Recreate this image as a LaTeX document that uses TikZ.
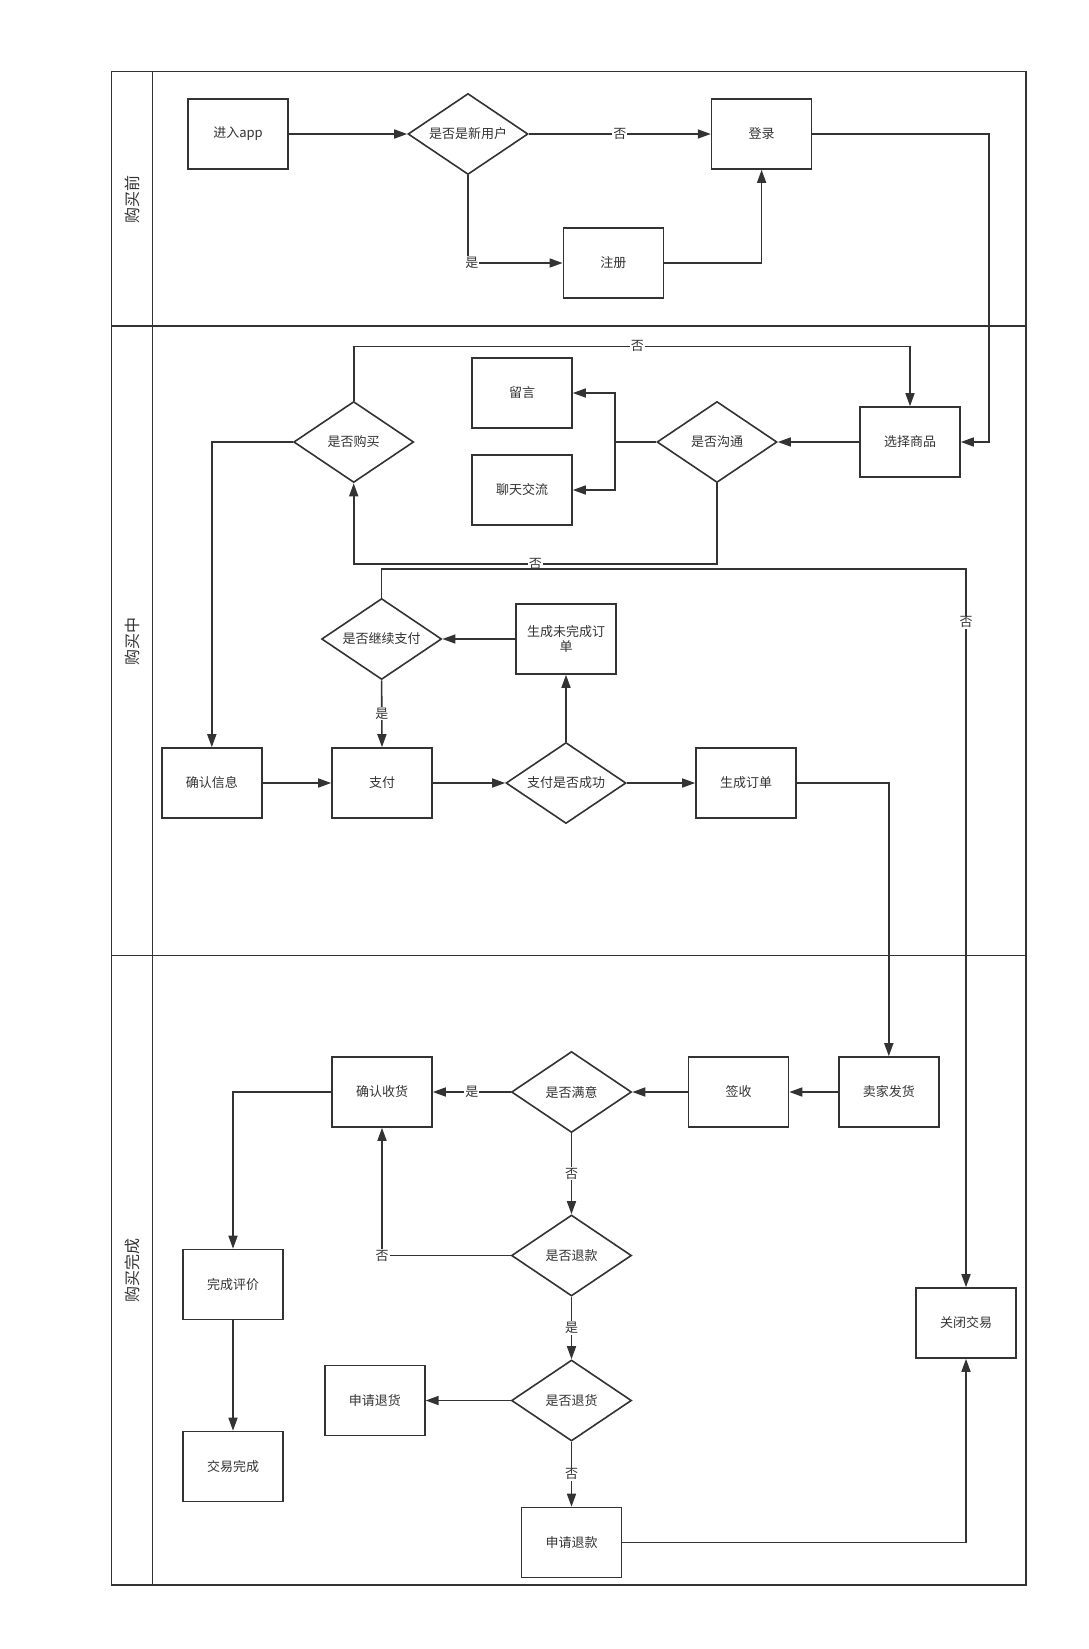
\documentclass[tikz,border=0pt]{standalone}
\usepackage{fontspec}
\setmainfont{Noto Sans CJK SC}
\usetikzlibrary{arrows.meta,shapes.geometric}
\definecolor{ink}{HTML}{333333}
\begin{document}
\begin{tikzpicture}[x=1pt,y=-1pt,
  every node/.style={font=\fontsize{13}{15}\selectfont, text=ink},
  box/.style={draw=ink, line width=1.6pt, minimum width=100pt, minimum height=70pt, inner sep=0pt, align=center},
  dec/.style={draw=ink, line width=1.6pt, diamond, aspect=1.5, minimum width=120pt, minimum height=81pt, inner sep=0pt},
  link/.style={draw=ink, line width=1.6pt, -{Triangle[length=13pt,width=9pt]}},
  plain/.style={draw=ink, line width=1.6pt},
  lbl/.style={fill=white, inner sep=1pt},
  lane/.style={font=\fontsize{16}{18}\selectfont, rotate=90}]
\useasboundingbox (0,0) rectangle (1089,1649);
\fill[white] (0,0) rectangle (1089,1649);
% frame
\draw[plain] (111.4,71.5) rectangle (1026,1585);
\draw[plain] (152.4,71.5) -- (152.4,1585);
\draw[plain] (111.4,326) -- (1026,326);
\draw[plain] (111.4,955.5) -- (1026,955.5);
\node[lane] (L1) at (132,199) {购买前};
\node[lane] (L2) at (132,641) {购买中};
\node[lane] (L3) at (132,1270) {购买完成};
% lane 1
\node[box] (app) at (238,134) {进入app};
\node[dec] (newu) at (468,134) {是否是新用户};
\node[box] (login) at (761.6,134) {登录};
\node[box] (reg) at (613.4,263) {注册};
% lane 2
\node[dec] (buy) at (353.7,442) {是否购买};
\node[box] (msg) at (522,393) {留言};
\node[box] (chat) at (522,490) {聊天交流};
\node[dec] (comm) at (717,442) {是否沟通};
\node[box] (sel) at (910,442) {选择商品};
\node[dec] (cont) at (381.6,639) {是否继续支付};
\node[box] (unfin) at (566,639) {生成未完成订\\单};
\node[box] (confirm) at (211.8,783) {确认信息};
\node[box] (pay) at (382,783) {支付};
\node[dec] (ok) at (566,783) {支付是否成功};
\node[box] (order) at (746,783) {生成订单};
% lane 3
\node[box] (ship) at (888.8,1092) {卖家发货};
\node[box] (sign) at (738.5,1092) {签收};
\node[dec] (satis) at (571.5,1092) {是否满意};
\node[box] (recv) at (382,1092) {确认收货};
\node[box] (review) at (233,1284.5) {完成评价};
\node[box] (done) at (233,1466.5) {交易完成};
\node[dec] (refund) at (571.5,1255.5) {是否退款};
\node[dec] (rtn) at (571.5,1400.5) {是否退货};
\node[box] (applyrtn) at (374.8,1400.5) {申请退货};
\node[box] (applyref) at (571.5,1542.5) {申请退款};
\node[box] (close) at (966,1323) {关闭交易};
% coordinates
\coordinate (c1) at (989,442);
\coordinate (c2) at (615,442);
\coordinate (c3) at (717,564);
\coordinate (c4) at (353.7,346.3);
\coordinate (c5) at (381.6,569.2);
% connectors lane 1
\draw[link] (app.east) -- (newu.west);
\draw[link] (newu.east) -- node[lbl]{否} (login.west);
\draw[link] (newu.south) |- node[lbl,pos=0.52]{是} (reg.west);
\draw[link] (reg.east) -| (login.south);
\draw[link] (login.east) -| (c1) -- (sel.east);
% lane 2
\draw[link] (sel.west) -- (comm.east);
\draw[plain] (comm.west) -- (c2);
\draw[link] (c2) |- (msg.east);
\draw[link] (c2) |- (chat.east);
\draw[link] (comm.south) -- (c3) -| node[lbl,pos=0.25]{否} (buy.south);
\draw[link] (buy.north) -- (c4) -| node[lbl,pos=0.255]{否} (sel.north);
\draw[link] (buy.west) -| (confirm.north);
\draw[link] (confirm.east) -- (pay.west);
\draw[link] (pay.east) -- (ok.west);
\draw[link] (ok.north) -- (unfin.south);
\draw[link] (ok.east) -- (order.west);
\draw[link] (unfin.west) -- (cont.east);
\draw[link] (cont.south) -- node[lbl]{是} (pay.north);
\draw[link] (cont.north) -- (c5) -| node[lbl,pos=0.537]{否} (close.north);
\draw[link] (order.east) -| (ship.north);
% lane 3
\draw[link] (ship.west) -- (sign.east);
\draw[link] (sign.west) -- (satis.east);
\draw[link] (satis.west) -- node[lbl]{是} (recv.east);
\draw[link] (recv.west) -| (review.north);
\draw[link] (review.south) -- (done.north);
\draw[link] (satis.south) -- node[lbl]{否} (refund.north);
\draw[link] (refund.west) -| node[lbl]{否} (recv.south);
\draw[link] (refund.south) -- node[lbl]{是} (rtn.north);
\draw[link] (rtn.west) -- (applyrtn.east);
\draw[link] (rtn.south) -- node[lbl]{否} (applyref.north);
\draw[link] (applyref.east) -| (close.south);
\end{tikzpicture}
\end{document}
